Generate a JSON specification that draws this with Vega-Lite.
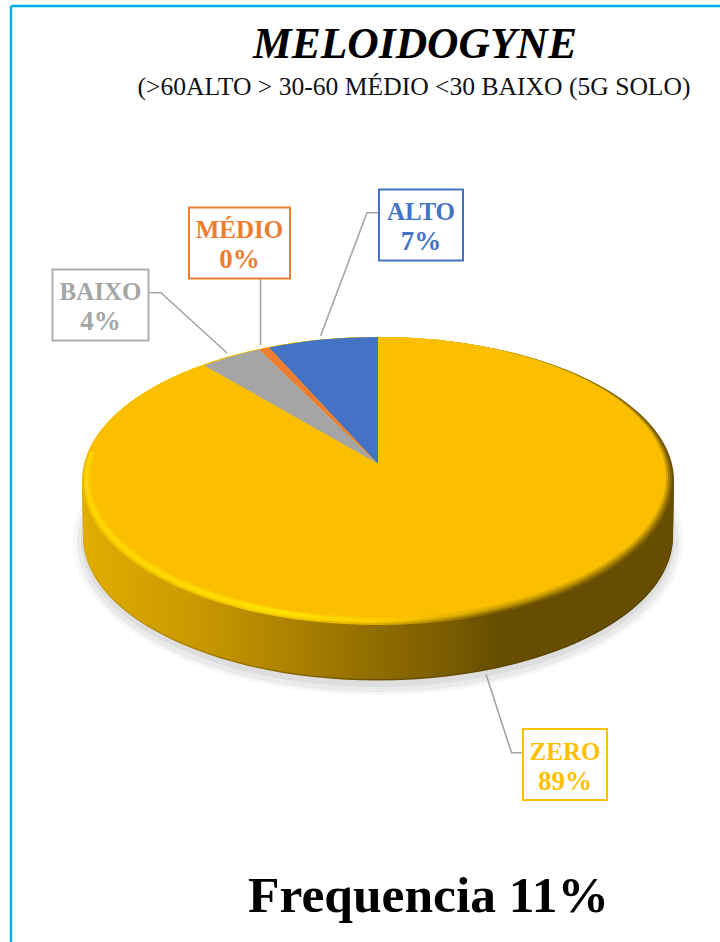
{
"$schema":"https://vega.github.io/schema/vega-lite/v6.json",
"autosize":"none",
"width":720,"height":942,"padding":0,
"background":"white",
"config":{"view":{"stroke":null},"axis":{"disable":true},"text":{"font":"Liberation Serif"}},
"data":{"values":[
{"categoria":"ALTO","fracao":0.07},
{"categoria":"MÉDIO","fracao":0.004},
{"categoria":"BAIXO","fracao":0.04},
{"categoria":"ZERO","fracao":0.886}
]},
"layer":[
{"transform":[{"filter":"datum.categoria==='ZERO'"}],
 "encoding":{"x":{"datum":378,"type":"quantitative","scale":{"domain":[0,720],"nice":false,"zero":false}},"y":{"datum":464,"type":"quantitative","scale":{"domain":[942,0],"nice":false,"zero":false}},"size":{"value":4}},
 "layer":[
 {"mark":{"type":"point","filled":true,"opacity":0.03,"fill":"#000","shape":"M-305,77 A305,154 0 1 0 305,77 A305,154 0 1 0 -305,77 Z"}},
 {"mark":{"type":"point","filled":true,"opacity":0.05,"fill":"#000","shape":"M-301,77 A301,151 0 1 0 301,77 A301,151 0 1 0 -301,77 Z"}},
 {"mark":{"type":"point","filled":true,"opacity":0.05,"fill":"#000","shape":"M-297,75 A297,148 0 1 0 297,75 A297,148 0 1 0 -297,75 Z"}},
 {"mark":{"type":"point","filled":true,"opacity":1,"shape":"M-296,17 L-295,72.5 A295,144 0 0 0 295,72.5 L296,17 Z","fill":{"gradient":"linear","x1":0,"y1":0,"x2":1,"y2":0,"stops":[{"offset":0,"color":"#C99A00"},{"offset":0.5,"color":"#6B5000"},{"offset":1,"color":"#4F3B00"}]}}},
 {"mark":{"type":"point","filled":true,"opacity":1,"shape":"M-296,17 L-295,71 A295,144 0 0 0 295,71 L296,17 Z","fill":{"gradient":"linear","x1":0,"y1":0,"x2":1,"y2":0,"stops":[{"offset":0,"color":"#E2AC00"},{"offset":0.2,"color":"#C89800"},{"offset":0.37,"color":"#A87F00"},{"offset":0.5,"color":"#8F6C00"},{"offset":0.62,"color":"#7A5C00"},{"offset":0.7,"color":"#674D00"},{"offset":1,"color":"#674D00"}]}}},
 {"mark":{"type":"point","filled":true,"opacity":1,"shape":"M-296,17 A296,144 0 1 0 296,17 A296,144 0 1 0 -296,17 Z","fill":{"gradient":"linear","x1":0,"y1":0,"x2":1,"y2":0,"stops":[{"offset":0,"color":"#E8B800"},{"offset":0.3,"color":"#F5CC00"},{"offset":0.5,"color":"#E0B000"},{"offset":0.7,"color":"#806100"},{"offset":1,"color":"#6B5000"}]}}},
 {"mark":{"type":"point","filled":true,"opacity":1,"shape":"M-294,16 A294,143 0 1 0 294,16 A294,143 0 1 0 -294,16 Z","fill":{"gradient":"linear","x1":0,"y1":0,"x2":1,"y2":0,"stops":[{"offset":0,"color":"#FFD000"},{"offset":0.3,"color":"#FFDC00"},{"offset":0.5,"color":"#FBC800"},{"offset":0.7,"color":"#A88200"},{"offset":1,"color":"#856500"}]}}},
 {"mark":{"type":"point","filled":true,"opacity":1,"shape":"M-292,15 A292,142 0 1 0 292,15 A292,142 0 1 0 -292,15 Z","fill":{"gradient":"linear","x1":0,"y1":0,"x2":1,"y2":0,"stops":[{"offset":0,"color":"#FFD500"},{"offset":0.35,"color":"#FFE600"},{"offset":0.55,"color":"#FBC400"},{"offset":0.72,"color":"#C89C00"},{"offset":1,"color":"#A88000"}]}}},
 {"mark":{"type":"point","filled":true,"opacity":1,"shape":"M-290,14 A290,141 0 1 0 290,14 A290,141 0 1 0 -290,14 Z","fill":{"gradient":"linear","x1":0,"y1":0,"x2":1,"y2":0,"stops":[{"offset":0,"color":"#FFCC00"},{"offset":0.35,"color":"#FFD400"},{"offset":0.55,"color":"#FBC000"},{"offset":0.72,"color":"#E4AE00"},{"offset":1,"color":"#D4A400"}]}}},
 {"mark":{"type":"point","filled":true,"opacity":1,"fill":"#FBBF00","shape":"M-290,-12 A296,144 0 0 1 0,-127 A296,150 0 0 1 281,-18 Z"}}
 ]},
{"mark":{"type":"point","filled":true,"opacity":1},
 "encoding":{
  "x":{"datum":378,"type":"quantitative"},"y":{"datum":464,"type":"quantitative"},"size":{"value":4},
  "color":{"field":"categoria","type":"nominal","legend":null,"scale":{"domain":["ALTO","MÉDIO","BAIXO","ZERO"],"range":["#4472C4","#ED7D31","#A5A5A5","#FBBF00"]}},
  "shape":{"field":"categoria","type":"nominal","legend":null,"scale":{"domain":["ALTO","MÉDIO","BAIXO","ZERO"],"range":[
   "M0,0 L0,-127 A288,140 0 0 0 -109,-116.6 Z",
   "M0,0 L-109,-116.6 A288,140 0 0 0 -119,-114.5 Z",
   "M0,0 L-119,-114.5 A288,140 0 0 0 -174,-98.6 Z",
   "M0,0 L-174,-98.6 A288,140 0 1 0 0,-127 Z"]}}
 }},
{"transform":[{"filter":"datum.categoria==='ALTO'"}],
 "encoding":{"x":{"datum":421,"type":"quantitative"},"y":{"datum":225,"type":"quantitative"},"size":{"value":4}},
 "layer":[
 {"mark":{"type":"point","filled":false,"opacity":1,"stroke":"#A5A5A5","strokeWidth":1.6,"shape":"M-42,-12.3 L-54,-12.3 L-100.3,110.7"}},
 {"mark":{"type":"point","filled":true,"opacity":1,"fill":"white","stroke":"#4472C4","strokeWidth":2,"shape":"M-42,-35.5 L42,-35.5 L42,35.5 L-42,35.5 Z"}},
 {"mark":{"type":"text","fontWeight":"bold","align":"center","baseline":"alphabetic","dy":-5,"color":"#4472C4"},"encoding":{"size":{"value":25},"text":{"field":"categoria"}}},
 {"mark":{"type":"text","fontWeight":"bold","align":"center","baseline":"alphabetic","dy":25,"color":"#4472C4"},"encoding":{"size":{"value":27},"text":{"field":"fracao","format":".0%"}}}
 ]},
{"transform":[{"filter":"datum.categoria==='MÉDIO'"}],
 "encoding":{"x":{"datum":239.5,"type":"quantitative"},"y":{"datum":243,"type":"quantitative"},"size":{"value":4}},
 "layer":[
 {"mark":{"type":"point","filled":false,"opacity":1,"stroke":"#A5A5A5","strokeWidth":1.6,"shape":"M21,35.5 L21,102"}},
 {"mark":{"type":"point","filled":true,"opacity":1,"fill":"white","stroke":"#ED7D31","strokeWidth":2,"shape":"M-50.5,-35.5 L50.5,-35.5 L50.5,35.5 L-50.5,35.5 Z"}},
 {"mark":{"type":"text","fontWeight":"bold","align":"center","baseline":"alphabetic","dy":-5,"color":"#ED7D31"},"encoding":{"size":{"value":25},"text":{"field":"categoria"}}},
 {"mark":{"type":"text","fontWeight":"bold","align":"center","baseline":"alphabetic","dy":25,"color":"#ED7D31"},"encoding":{"size":{"value":27},"text":{"field":"fracao","format":".0%"}}}
 ]},
{"transform":[{"filter":"datum.categoria==='BAIXO'"}],
 "encoding":{"x":{"datum":100.5,"type":"quantitative"},"y":{"datum":305,"type":"quantitative"},"size":{"value":4}},
 "layer":[
 {"mark":{"type":"point","filled":false,"opacity":1,"stroke":"#A5A5A5","strokeWidth":1.6,"shape":"M48,-12.3 L60.5,-12.3 L126.5,48"}},
 {"mark":{"type":"point","filled":true,"opacity":1,"fill":"white","stroke":"#ADADAD","strokeWidth":2,"shape":"M-48,-35.5 L48,-35.5 L48,35.5 L-48,35.5 Z"}},
 {"mark":{"type":"text","fontWeight":"bold","align":"center","baseline":"alphabetic","dy":-5,"color":"#A5A5A5"},"encoding":{"size":{"value":25},"text":{"field":"categoria"}}},
 {"mark":{"type":"text","fontWeight":"bold","align":"center","baseline":"alphabetic","dy":25,"color":"#A5A5A5"},"encoding":{"size":{"value":27},"text":{"field":"fracao","format":".0%"}}}
 ]},
{"transform":[{"filter":"datum.categoria==='ZERO'"}],
 "encoding":{"x":{"datum":565,"type":"quantitative"},"y":{"datum":764.5,"type":"quantitative"},"size":{"value":4}},
 "layer":[
 {"mark":{"type":"point","filled":false,"opacity":1,"stroke":"#A5A5A5","strokeWidth":1.6,"shape":"M-42,-11.8 L-53.5,-11.8 L-79,-90.2"}},
 {"mark":{"type":"point","filled":true,"opacity":1,"fill":"white","stroke":"#FFC000","strokeWidth":2,"shape":"M-42,-35.5 L42,-35.5 L42,35.5 L-42,35.5 Z"}},
 {"mark":{"type":"text","fontWeight":"bold","align":"center","baseline":"alphabetic","dy":-5,"color":"#FFC000"},"encoding":{"size":{"value":25},"text":{"field":"categoria"}}},
 {"mark":{"type":"text","fontWeight":"bold","align":"center","baseline":"alphabetic","dy":25,"color":"#FFC000"},"encoding":{"size":{"value":27},"text":{"field":"fracao","format":".0%"}}}
 ]},
{"transform":[{"filter":"datum.categoria==='ZERO'"}],
 "layer":[
 {"mark":{"type":"text","fontSize":43.5,"fontWeight":"bold","fontStyle":"italic","align":"center","baseline":"alphabetic","color":"#000"},
  "encoding":{"x":{"datum":415,"type":"quantitative"},"y":{"datum":58,"type":"quantitative"},"text":{"value":"MELOIDOGYNE"}}},
 {"mark":{"type":"text","fontSize":25.6,"align":"center","baseline":"alphabetic","color":"#111"},
  "encoding":{"x":{"datum":414,"type":"quantitative"},"y":{"datum":95,"type":"quantitative"},"text":{"value":"(>60ALTO > 30-60 MÉDIO <30 BAIXO (5G SOLO)"}}},
 {"mark":{"type":"text","fontSize":51.5,"fontWeight":"bold","align":"center","baseline":"alphabetic","color":"#000"},
  "encoding":{"x":{"datum":428.5,"type":"quantitative"},"y":{"datum":912,"type":"quantitative"},"text":{"value":"Frequencia 11%"}}},
 {"mark":{"type":"rule","color":"#00B0F0","strokeWidth":2.5},
  "encoding":{"x":{"datum":11,"type":"quantitative"},"y":{"datum":6,"type":"quantitative"},"y2":{"datum":942}}},
 {"mark":{"type":"rule","color":"#00B0F0","strokeWidth":2.5},
  "encoding":{"y":{"datum":6,"type":"quantitative"},"x":{"datum":11,"type":"quantitative"},"x2":{"datum":720}}}
 ]}
]
}
